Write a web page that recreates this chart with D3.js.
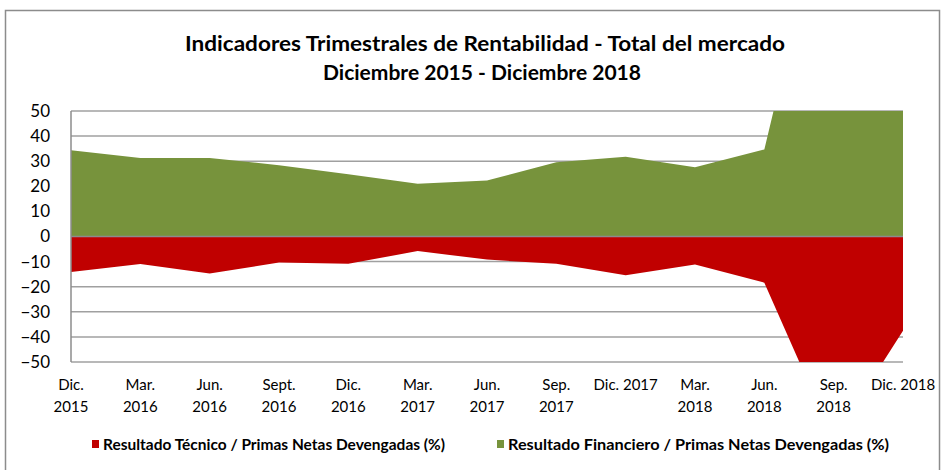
<!DOCTYPE html>
<html>
<head>
<meta charset="utf-8">
<script src="https://cdn.jsdelivr.net/npm/d3@7"></script>
<style>
  body { margin: 0; background: #fff; }
  text { font-family: Lato, "Open Sans", sans-serif; fill: #000; }
</style>
</head>
<body>
<div id="container"></div>
<script>
// quarters (two-line labels as in the original)
let labelTop = ["Dic.", "Mar.", "Jun.", "Sept.", "Dic.", "Mar.", "Jun.", "Sep.", "Dic. 2017", "Mar.", "Jun.", "Sep.", "Dic. 2018"];
let labelBottom = ["2015", "2016", "2016", "2016", "2016", "2017", "2017", "2017", "", "2018", "2018", "2018", ""];

// Resultado Técnico / Primas Netas Devengadas (%)
let tecnico = [-14.1, -11.0, -14.7, -10.4, -10.9, -5.8, -9.2, -10.9, -15.4, -11.2, -18.4, -81, -37.5];
// Resultado Financiero / Primas Netas Devengadas (%)
let financiero = [34.4, 31.3, 31.3, 28.4, 24.8, 21.0, 22.3, 29.6, 31.8, 27.6, 34.7, 150, 80];

let yTicks = [50, 40, 30, 20, 10, 0, -10, -20, -30, -40, -50];
let seriesNames = ["Resultado Técnico / Primas Netas Devengadas (%)", "Resultado Financiero / Primas Netas Devengadas (%)"];
let colors = ["#C00000", "#77933C"];

let W = 944, H = 470;
let plot = {left: 71, right: 903, top: 111, bottom: 362};

let svg = d3.select("#container").append("svg")
    .attr("width", W)
    .attr("height", H);

// chart frame
svg.append("rect")
    .attr("x", 5.5).attr("y", 10.5)
    .attr("width", 934).attr("height", 470)
    .attr("fill", "none")
    .attr("stroke", "#8c8c8c")
    .attr("stroke-width", 1.5);

// title
svg.append("text")
    .attr("x", 185).attr("y", 51)
    .attr("font-weight", "bold")
    .attr("font-size", 21)
    .attr("textLength", 600)
    .attr("lengthAdjust", "spacingAndGlyphs")
    .text("Indicadores Trimestrales de Rentabilidad - Total del mercado");
svg.append("text")
    .attr("x", 323).attr("y", 80)
    .attr("font-weight", "bold")
    .attr("font-size", 21)
    .attr("textLength", 318)
    .attr("lengthAdjust", "spacingAndGlyphs")
    .text("Diciembre 2015  - Diciembre 2018");

let xScale = d3.scalePoint()
    .domain(d3.range(labelTop.length))
    .range([plot.left, plot.right]);

let yScale = d3.scaleLinear()
    .domain([-50, 50])
    .range([plot.bottom, plot.top]);

// gridlines
svg.append("g")
    .selectAll("line")
    .data(yTicks)
    .enter().append("line")
      .attr("x1", plot.left).attr("x2", plot.right)
      .attr("y1", d => yScale(d)).attr("y2", d => yScale(d))
      .attr("stroke", "#a0a0a0")
      .attr("stroke-width", 1.5);

// clip to the plot box
svg.append("clipPath")
    .attr("id", "clip")
  .append("rect")
    .attr("x", plot.left).attr("y", plot.top)
    .attr("width", plot.right - plot.left)
    .attr("height", plot.bottom - plot.top);

let area = d3.area()
    .x((d, i) => xScale(i))
    .y0(yScale(0))
    .y1(d => yScale(d));

let areas = svg.append("g").attr("clip-path", "url(#clip)");
[tecnico, financiero].forEach(function(s, k) {
  areas.append("path")
      .datum(s)
      .attr("d", area)
      .attr("fill", colors[k]);
});

// zero line and left axis
svg.append("line")
    .attr("x1", plot.left).attr("x2", plot.right)
    .attr("y1", yScale(0)).attr("y2", yScale(0))
    .attr("stroke", "#8c8c8c")
    .attr("stroke-width", 1.5);
svg.append("line")
    .attr("x1", plot.left).attr("x2", plot.left)
    .attr("y1", plot.top).attr("y2", plot.bottom)
    .attr("stroke", "#8c8c8c")
    .attr("stroke-width", 1.5);

// y labels
let yAxis = d3.axisLeft(yScale).tickValues(yTicks).tickSize(0).tickPadding(21);
let yAxisGroup = svg.append("g")
    .attr("transform", "translate(" + plot.left + ",0)")
    .call(yAxis);
yAxisGroup.select(".domain").remove();
yAxisGroup.selectAll("text")
    .attr("font-family", "Lato, sans-serif")
    .attr("font-size", 17)
    .attr("fill", "#000");

// x labels
let xl = svg.append("g")
    .selectAll("text")
    .data(labelTop)
    .enter().append("text")
      .attr("x", (d, i) => xScale(i))
      .attr("y", 390)
      .attr("text-anchor", "middle")
      .attr("font-size", 15);
xl.append("tspan").text(d => d);
xl.append("tspan")
    .attr("x", (d, i) => xScale(i))
    .attr("dy", 22)
    .text((d, i) => labelBottom[i]);

// legend
let legendX = [92, 497];
let legendLen = [342, 381];
seriesNames.forEach(function(name, k) {
  svg.append("rect")
      .attr("x", legendX[k]).attr("y", 440)
      .attr("width", 7).attr("height", 8)
      .attr("fill", colors[k]);
  svg.append("text")
      .attr("x", legendX[k] + 11).attr("y", 450)
      .attr("font-weight", "bold")
      .attr("font-size", 15)
      .attr("textLength", legendLen[k])
      .attr("lengthAdjust", "spacingAndGlyphs")
      .text(name);
});
</script>
</body>
</html>
